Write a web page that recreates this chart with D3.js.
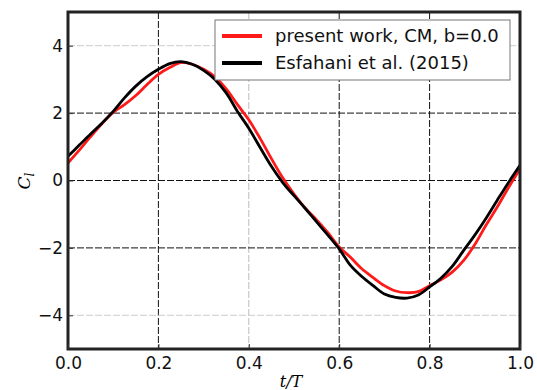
<!DOCTYPE html>
<html><head><meta charset="utf-8">
<script src="https://cdn.jsdelivr.net/npm/d3@7"></script>
<style>body{margin:0;background:#fff}svg{display:block}</style>
</head><body>
<svg id="c" width="537" height="390"></svg>
<script>
const tValues = [0.000,0.025,0.050,0.075,0.100,0.125,0.150,0.175,0.200,0.225,0.250,0.275,0.300,0.325,0.350,0.375,0.400,0.425,0.450,0.475,0.500,0.525,0.550,0.575,0.600,0.625,0.650,0.675,0.700,0.725,0.750,0.775,0.800,0.825,0.850,0.875,0.900,0.925,0.950,0.975,1.000];
const presentWork = [0.52,0.90,1.30,1.68,2.02,2.25,2.52,2.85,3.15,3.35,3.50,3.45,3.30,3.08,2.72,2.25,1.80,1.25,0.65,0.08,-0.40,-0.82,-1.17,-1.55,-1.97,-2.28,-2.62,-2.88,-3.12,-3.28,-3.33,-3.30,-3.12,-2.95,-2.72,-2.38,-1.90,-1.32,-0.78,-0.20,0.35];
const esfahani = [0.72,1.05,1.38,1.70,2.05,2.45,2.80,3.08,3.30,3.47,3.53,3.45,3.27,3.00,2.60,2.05,1.55,0.98,0.42,-0.06,-0.45,-0.83,-1.23,-1.62,-2.03,-2.52,-2.85,-3.12,-3.37,-3.47,-3.49,-3.40,-3.16,-2.90,-2.55,-2.08,-1.62,-1.12,-0.58,-0.05,0.45];
const xTicks = [0.0,0.2,0.4,0.6,0.8,1.0];
const yTicks = [4,2,0,-2,-4];
const seriesNames = ["present work, CM, b=0.0","Esfahani et al. (2015)"];
const seriesColors = ["#ff1a1a","#000000"];

const svg = d3.select("#c");
const L=68,R=520,T=12,B=349;
const x = d3.scaleLinear().domain([0,1]).range([L,R]);
const y = d3.scaleLinear().domain([-5,5]).range([B,T]);

// grid
const g = svg.append("g");
xTicks.slice(1,-1).forEach(v=>{
  g.append("line").attr("x1",x(v)).attr("x2",x(v)).attr("y1",T).attr("y2",B)
   .attr("stroke", v===0.4? "#bbb":"#111").attr("stroke-width",1).attr("stroke-dasharray","7,2");
});
yTicks.forEach(v=>{
  g.append("line").attr("x1",L).attr("x2",R).attr("y1",y(v)).attr("y2",y(v))
   .attr("stroke", Math.abs(v)===4? "#ccc":"#111").attr("stroke-width",1).attr("stroke-dasharray","7,2");
});

// lines
const line = d3.line().x((d,i)=>x(tValues[i])).y(d=>y(d)).curve(d3.curveCatmullRom);
[presentWork, esfahani].forEach((s,k)=>{
  svg.append("path").datum(s).attr("d",line).attr("fill","none")
    .attr("stroke",seriesColors[k]).attr("stroke-width",2.8).attr("stroke-linejoin","round");
});

// frame
svg.append("rect").attr("x",L).attr("y",T).attr("width",R-L).attr("height",B-T)
  .attr("fill","none").attr("stroke","#222").attr("stroke-width",3);

// axes tick labels
const xa = svg.append("g").attr("transform",`translate(0,${B})`)
  .call(d3.axisBottom(x).tickValues(xTicks).tickFormat(d3.format(".1f")).tickSize(-5).tickPadding(8));
const ya = svg.append("g").attr("transform",`translate(${L},0)`)
  .call(d3.axisLeft(y).tickValues(yTicks).tickFormat(d=>d<0?"\u2212"+Math.abs(d):d).tickSize(-5).tickPadding(5));
[xa,ya].forEach(a=>{
  a.select(".domain").remove();
  a.selectAll("text").attr("font-family","DejaVu Sans").attr("font-size",17).attr("fill","#111");
  a.selectAll("line").attr("stroke","#333");
});

// axis labels
svg.append("text").attr("x",291).attr("y",387).attr("text-anchor","middle")
  .attr("font-family","DejaVu Serif").attr("font-style","italic").attr("font-size",16).text("t/T");
const yl = svg.append("text").attr("transform","translate(30,181) rotate(-90)").attr("text-anchor","middle")
  .attr("font-family","DejaVu Serif").attr("font-style","italic").attr("font-size",17);
yl.append("tspan").text("C");
yl.append("tspan").attr("font-size",12).attr("dy",4).text("l");

// legend
const lg = svg.append("g");
lg.append("rect").attr("x",215).attr("y",20).attr("width",295).attr("height",60)
  .attr("fill","#fff").attr("stroke","#777").attr("stroke-width",1);
seriesNames.forEach((n,i)=>{
  const yy = 36 + i*27;
  lg.append("line").attr("x1",222).attr("x2",262).attr("y1",yy).attr("y2",yy)
    .attr("stroke",seriesColors[i]).attr("stroke-width",4);
  lg.append("text").attr("x",275).attr("y",yy+6).attr("font-family","DejaVu Sans")
    .attr("font-size",18).attr("fill","#111").text(n);
});
</script>
</body></html>
